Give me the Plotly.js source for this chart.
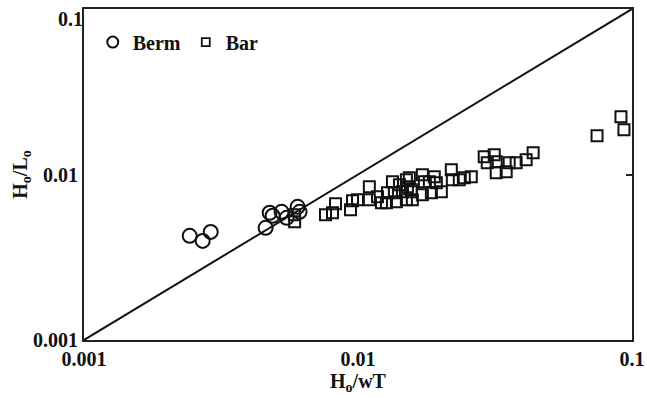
<!DOCTYPE html>
<html>
<head>
<meta charset="utf-8">
<script src="https://cdn.plot.ly/plotly-3.0.1.min.js"></script>
<style>html,body{margin:0;padding:0;background:#fff;}#chart{width:647px;height:398px;}</style>
</head>
<body>
<div id="chart"></div>
<script>
// Berm (circles)
var bermX = [0.00243, 0.00271, 0.00290, 0.00460, 0.00476, 0.00488, 0.00526, 0.00549, 0.00602, 0.00612];
var bermY = [0.00426, 0.00397, 0.00450, 0.00476, 0.00587, 0.00563, 0.00595, 0.00547, 0.00638, 0.00595];

// Bar (squares)
var barX = [0.00587, 0.00587, 0.00761, 0.00807, 0.00828, 0.00939, 0.00955, 0.00996, 0.0110, 0.0110,
            0.01178, 0.01218, 0.0127, 0.01281, 0.01336, 0.01358, 0.01381, 0.01417, 0.01453, 0.01502,
            0.01502, 0.01566, 0.01579, 0.01515, 0.0154, 0.01566, 0.01718, 0.01747, 0.01822, 0.01899,
            0.01932, 0.01718, 0.01853, 0.02015, 0.02191, 0.0221, 0.02343, 0.02443, 0.02592, 0.02889,
            0.02964, 0.03143, 0.03196, 0.03196, 0.03475, 0.03564, 0.03779, 0.04111, 0.04359, 0.07458,
            0.0912, 0.09352];
var barY = [0.00571, 0.00518, 0.00571, 0.00587, 0.00665, 0.00612, 0.00694, 0.00703, 0.00843, 0.00703,
            0.00734, 0.00675, 0.00675, 0.00776, 0.00904, 0.00776, 0.00684, 0.00867, 0.00786, 0.00930,
            0.00703, 0.00809, 0.00703, 0.00843, 0.00956, 0.00786, 0.00997, 0.00904, 0.00904, 0.00969,
            0.00892, 0.00754, 0.00776, 0.00786, 0.01068, 0.00930, 0.00930, 0.00956, 0.00969, 0.01280,
            0.01178, 0.01317, 0.01194, 0.01025, 0.01039, 0.01178, 0.01178, 0.01228, 0.01354, 0.01716,
            0.02236, 0.01866];

// 1:1 line
var lineX = [0.001, 0.1];
var lineY = [0.001, 0.1];

// tick labels
var tickVals = [0.001, 0.01, 0.1];
var tickText = ['0.001', '0.01', '0.1'];
var yTickValsLow = [0.001, 0.01];
var yTickTextLow = ['0.001', '0.01'];
var yTickValsTop = [0.1];
var yTickTextTop = ['0.1'];

var FONT = {family: 'Liberation Serif, Times New Roman, serif', size: 20, color: '#111', weight: 'bold'};
var RANGE = [-3.0003, -0.9997];

var traces = [
  {x: lineX, y: lineY, mode: 'lines', line: {color: '#111', width: 2}, showlegend: false, hoverinfo: 'skip', yaxis: 'y2'},
  {x: bermX, y: bermY, mode: 'markers', name: 'Berm', showlegend: false, yaxis: 'y3',
   marker: {symbol: 'circle-open', size: 14, color: '#111', line: {width: 2, color: '#111'}}},
  {x: barX, y: barY, mode: 'markers', name: 'Bar', showlegend: false,
   marker: {symbol: 'square-open', size: 11, color: '#111', line: {width: 2, color: '#111'}}},
  // legend entries (smaller symbols as in reference)
  {x: [null], y: [null], mode: 'markers', name: 'Berm',
   marker: {symbol: 'circle-open', size: 11, color: '#111', line: {width: 2, color: '#111'}}},
  {x: [null], y: [null], mode: 'markers', name: 'Bar',
   marker: {symbol: 'square-open', size: 8, color: '#111', line: {width: 1.8, color: '#111'}}}
];

var layout = {
  width: 647, height: 398,
  margin: {l: 84, r: 15, t: 9, b: 58},
  paper_bgcolor: '#fff', plot_bgcolor: '#fff',
  font: FONT,
  showlegend: true,
  legend: {orientation: 'h', x: 0.016, xanchor: 'left', y: 0.90, yanchor: 'middle',
           bgcolor: 'rgba(0,0,0,0)', font: {family: FONT.family, size: 20, color: '#111', weight: 'bold'},
           itemwidth: 30, entrywidth: 48, entrywidthmode: 'pixels', tracegroupgap: 0},
  xaxis: {type: 'log', range: RANGE, tickvals: tickVals, ticktext: tickText, ticks: '',
          showline: true, linewidth: 2, linecolor: '#222', mirror: true, showgrid: false, zeroline: false,
          ticklabeloverflow: 'allow',
          tickfont: FONT, title: {text: 'H<sub>o</sub>/wT', font: FONT, standoff: 4}},
  yaxis: {type: 'log', range: RANGE, tickvals: yTickValsLow, ticktext: yTickTextLow, ticks: '',
          showline: true, linewidth: 2, linecolor: '#222', mirror: true, showgrid: false, zeroline: false,
          ticklabeloverflow: 'allow',
          tickfont: FONT, title: {text: 'H<sub>o</sub>/L<sub>o</sub>', font: FONT, standoff: 0}},
  yaxis2: {type: 'log', range: RANGE, overlaying: 'y', side: 'right', tickvals: [0.01],
           ticks: 'inside', ticklen: 6, tickwidth: 2, tickcolor: '#222', showticklabels: false,
           showline: false, showgrid: false, zeroline: false},
  yaxis3: {type: 'log', range: RANGE, overlaying: 'y', side: 'left', tickvals: yTickValsTop, ticktext: yTickTextTop,
           ticks: '', ticklabelshift: 10, ticklabeloverflow: 'allow', tickfont: FONT,
           showline: false, showgrid: false, zeroline: false}
};

Plotly.newPlot('chart', traces, layout, {displayModeBar: false, staticPlot: true});
</script>
</body>
</html>
